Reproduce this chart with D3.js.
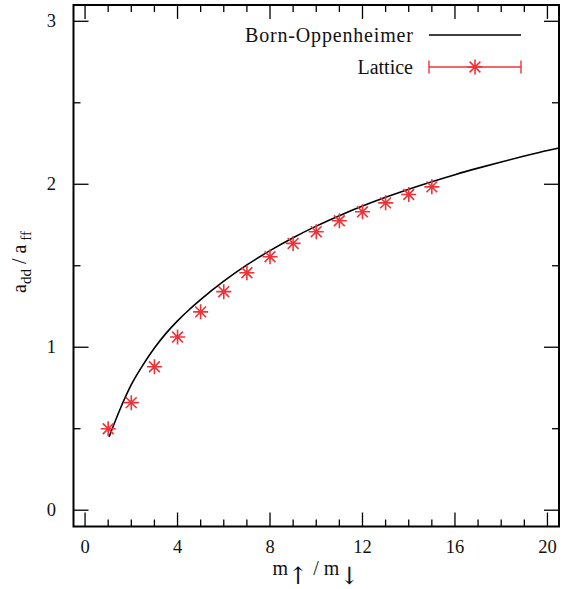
<!DOCTYPE html>
<html><head><meta charset="utf-8">
<script src="https://cdn.jsdelivr.net/npm/d3@7"></script>
<style>body{margin:0;background:#fff}svg{display:block}text{font-family:"Liberation Serif",serif;fill:#111}</style>
</head><body><svg id="c" width="563" height="589"></svg>
<script>
// Born-Oppenheimer curve
const boX = [1.04, 1.5, 2, 2.5, 3, 3.5, 4, 4.5, 5, 6, 7, 8, 9, 10, 11, 12, 13, 14, 15, 16, 17, 18, 19, 20, 20.5];
const boY = [0.45, 0.615, 0.77, 0.89, 0.995, 1.085, 1.162, 1.23, 1.292, 1.405, 1.505, 1.593, 1.672, 1.743, 1.807, 1.866, 1.92, 1.97, 2.016, 2.059, 2.099, 2.137, 2.173, 2.207, 2.222];
// Lattice points
const latX = [1, 2, 3, 4, 5, 6, 7, 8, 9, 10, 11, 12, 13, 14, 15];
const latY = [0.50, 0.66, 0.88, 1.063, 1.217, 1.341, 1.457, 1.555, 1.637, 1.709, 1.776, 1.831, 1.886, 1.937, 1.984];
const xTicks = [0, 4, 8, 12, 16, 20];
const yTicks = [0, 1, 2, 3];
const xMinor = d3.range(0, 21, 1);
const yMinor = d3.range(0, 3.01, 0.5);

const svg = d3.select("#c");
const L = 73.5, R = 559, T = 5, B = 526.5;
const x = d3.scaleLinear().domain([-0.5, 20.5]).range([L, R]);
const y = d3.scaleLinear().domain([-0.1, 3.1]).range([B, T]);
const red = "#ee3338";

const g = svg.append("g");
function tk(vals, len){
  vals.forEach(v=>{
    const px = x(v);
    g.append("line").attr("x1",px).attr("x2",px).attr("y1",B).attr("y2",B-len).attr("stroke","#000").attr("stroke-width",1.3);
    g.append("line").attr("x1",px).attr("x2",px).attr("y1",T).attr("y2",T+len).attr("stroke","#000").attr("stroke-width",1.3);
  });
}
function tky(vals, len){
  vals.forEach(v=>{
    const py = y(v);
    g.append("line").attr("y1",py).attr("y2",py).attr("x1",L).attr("x2",L+len).attr("stroke","#000").attr("stroke-width",1.3);
    g.append("line").attr("y1",py).attr("y2",py).attr("x1",R).attr("x2",R-len).attr("stroke","#000").attr("stroke-width",1.3);
  });
}
tk(xMinor.filter(v=>v%4!==0), 7);
tk(xTicks, 14);
tky(yMinor.filter(v=>v%1!==0), 7);
tky(yTicks, 15);

xTicks.forEach(v=>g.append("text").attr("x",x(v)).attr("y",553).attr("text-anchor","middle").attr("font-size",18.5).text(v));
yTicks.forEach(v=>g.append("text").attr("x",56).attr("y",y(v)+6).attr("text-anchor","end").attr("font-size",18.5).text(v));

const line = d3.line().x(d=>x(d[0])).y(d=>y(d[1])).curve(d3.curveMonotoneX);
g.append("path").datum(boX.map((v,i)=>[v,boY[i]])).attr("d",line).attr("fill","none").attr("stroke","#000").attr("stroke-width",1.6);

function star(cx, cy, r){
  const d = r*0.72;
  return `M${cx-r},${cy}H${cx+r}M${cx},${cy-r}V${cy+r}M${cx-d},${cy-d}L${cx+d},${cy+d}M${cx-d},${cy+d}L${cx+d},${cy-d}`;
}
latX.forEach((v,i)=>{
  g.append("path").attr("d",star(x(v),y(latY[i]),7.5)).attr("stroke",red).attr("stroke-width",1.6).attr("fill","none");
});

g.append("rect").attr("x",L).attr("y",T).attr("width",R-L).attr("height",B-T).attr("fill","none").attr("stroke","#000").attr("stroke-width",2);

const lx1 = 429, lx2 = 521, ltx = 413;
g.append("text").attr("x",ltx).attr("y",41.5).attr("text-anchor","end").attr("font-size",20).attr("textLength",168).attr("lengthAdjust","spacing").text("Born-Oppenheimer");
g.append("line").attr("x1",lx1).attr("x2",lx2).attr("y1",35).attr("y2",35).attr("stroke","#000").attr("stroke-width",1.6);
g.append("text").attr("x",ltx).attr("y",73.5).attr("text-anchor","end").attr("font-size",20).text("Lattice");
g.append("line").attr("x1",lx1).attr("x2",lx2).attr("y1",67).attr("y2",67).attr("stroke",red).attr("stroke-width",1.4);
[lx1,lx2].forEach(px=>g.append("line").attr("x1",px).attr("x2",px).attr("y1",60.5).attr("y2",73.5).attr("stroke",red).attr("stroke-width",1.4));
g.append("path").attr("d",star((lx1+lx2)/2,67,7.5)).attr("stroke",red).attr("stroke-width",1.6).attr("fill","none");

const xl = g.append("text").attr("x",316).attr("y",575).attr("text-anchor","middle").attr("font-size",20);
xl.append("tspan").text("m");
xl.append("tspan").attr("dy",9).attr("font-family","DejaVu Serif").attr("font-size",24).attr("font-weight",300).text("↑");
xl.append("tspan").attr("dy",-9).text(" / m");
xl.append("tspan").attr("dy",9).attr("font-family","DejaVu Serif").attr("font-size",24).attr("font-weight",300).text("↓");

const yl = g.append("text").attr("transform","translate(26,262) rotate(-90)").attr("text-anchor","middle").attr("font-size",20);
yl.append("tspan").text("a");
yl.append("tspan").attr("dy",5).attr("font-size",15).text("dd");
yl.append("tspan").attr("dy",-5).text(" / a");
yl.append("tspan").attr("dy",5).attr("font-size",15).text(" ff");
</script></body></html>
